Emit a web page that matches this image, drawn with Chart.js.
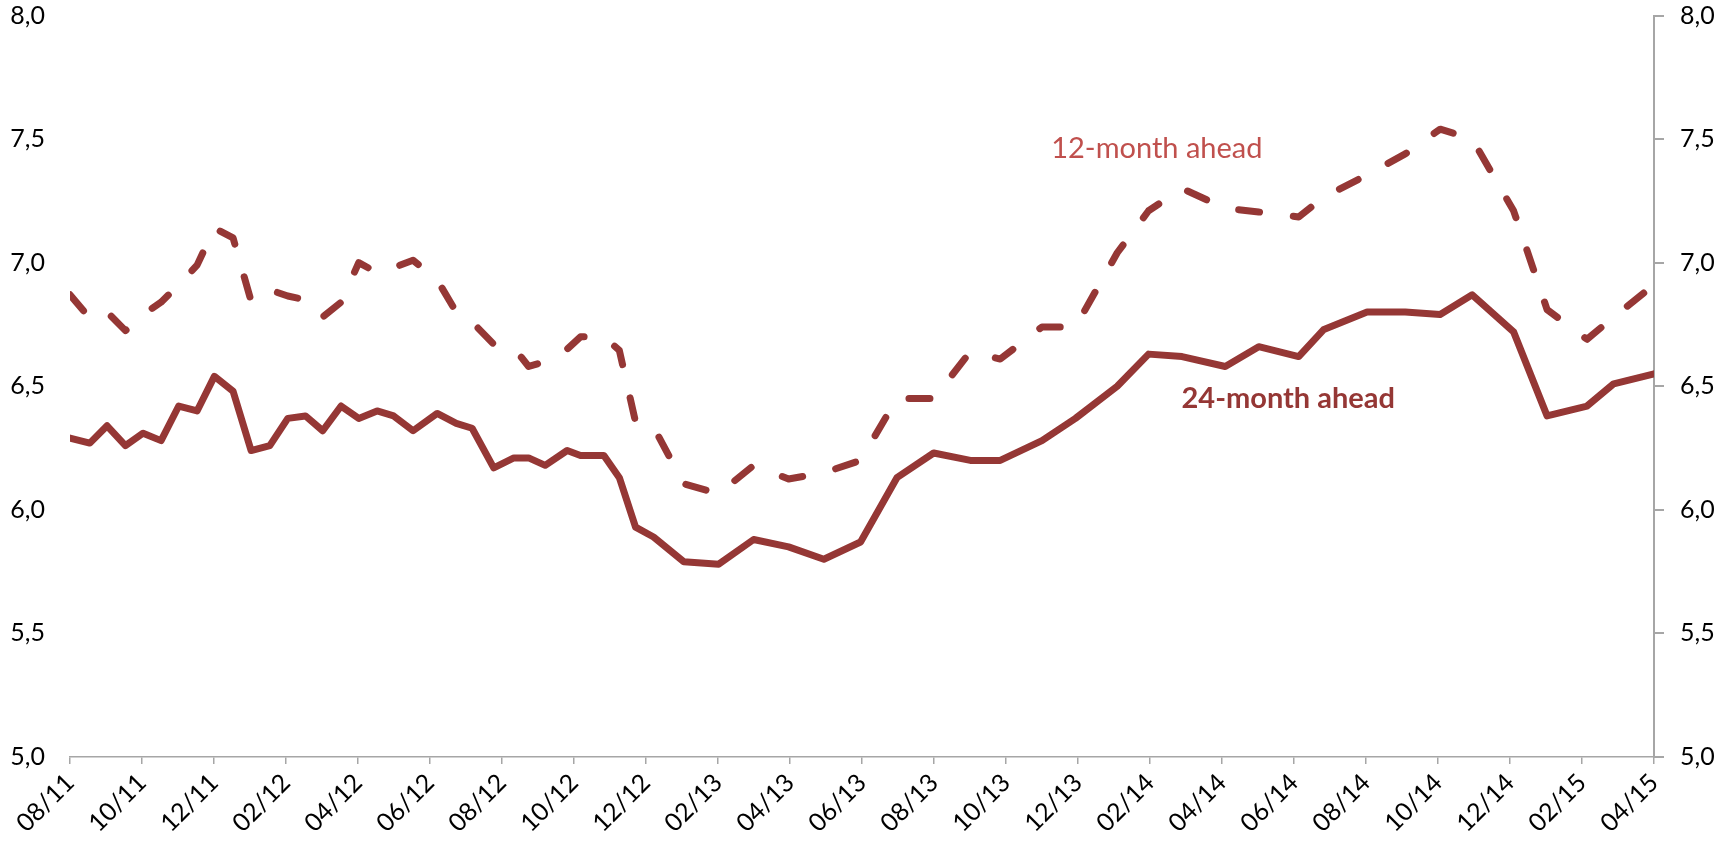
<!DOCTYPE html>
<html>
<head>
<meta charset="utf-8">
<script src="https://cdn.jsdelivr.net/npm/chart.js@4/dist/chart.umd.min.js"></script>
<style>
  html, body { margin: 0; padding: 0; background: #ffffff; }
  #wrap { width: 1732px; height: 842px; }
</style>
</head>
<body>
<div id="wrap"><canvas id="c" width="1732" height="842"></canvas></div>
<script>
// Observation dates, in months since 08/2011
const months = [
  0, 0.55, 1.03, 1.54, 2.03, 2.53, 3.02, 3.53, 4.01, 4.53,
  5.03, 5.55, 6.05, 6.54, 7.02, 7.53, 8.02, 8.53, 8.99, 9.53,
  10.2, 10.73, 11.17, 11.77, 12.33, 12.74, 13.2, 13.81, 14.18, 14.83,
  15.26, 15.71, 16.21, 17.05, 18.02, 18.99, 19.96, 20.94, 21.96, 22.97,
  23.99, 25.01, 25.84, 27.0, 27.93, 29.09, 29.96, 30.89, 32.09, 33.02,
  34.13, 34.83, 36.03, 37.09, 38.06, 38.95, 40.1, 41.03, 42.14, 42.88, 44.0
];
// 12-month ahead expectations
const ahead12 = [
  6.87, 6.775, 6.80, 6.725, 6.79, 6.84, 6.91, 6.99, 7.14, 7.10,
  6.845, 6.89, 6.865, 6.85, 6.78, 6.84, 7.00, 6.96, 6.98, 7.01,
  6.93, 6.80, 6.76, 6.67, 6.655, 6.58, 6.60, 6.65, 6.70, 6.70,
  6.645, 6.355, 6.335, 6.105, 6.065, 6.18, 6.125, 6.15, 6.20, 6.45,
  6.45, 6.64, 6.61, 6.74, 6.74, 7.04, 7.21, 7.30, 7.22, 7.205,
  7.185, 7.265, 7.355, 7.44, 7.54, 7.50, 7.21, 6.81, 6.69, 6.78, 6.91
];
// 24-month ahead expectations
const ahead24 = [
  6.29, 6.27, 6.34, 6.26, 6.31, 6.28, 6.42, 6.40, 6.54, 6.48,
  6.24, 6.26, 6.37, 6.38, 6.32, 6.42, 6.37, 6.40, 6.38, 6.32,
  6.39, 6.35, 6.33, 6.17, 6.21, 6.21, 6.18, 6.24, 6.22, 6.22,
  6.13, 5.93, 5.89, 5.79, 5.78, 5.88, 5.85, 5.80, 5.87, 6.13,
  6.23, 6.20, 6.20, 6.28, 6.37, 6.50, 6.63, 6.62, 6.58, 6.66,
  6.62, 6.73, 6.80, 6.80, 6.79, 6.87, 6.72, 6.38, 6.42, 6.51, 6.55
];
const tickLabels = [
  "08/11", "10/11", "12/11", "02/12", "04/12", "06/12", "08/12", "10/12",
  "12/12", "02/13", "04/13", "06/13", "08/13", "10/13", "12/13", "02/14",
  "04/14", "06/14", "08/14", "10/14", "12/14", "02/15", "04/15"
];
const seriesNames = ["12-month ahead", "24-month ahead"];

const lineColor = "#953735";
const axisGray = "#a6a6a6";
const tickFont = { family: "Lato, 'Open Sans', sans-serif", size: 25 };

const toPts = (ys) => months.map((m, i) => ({ x: m, y: ys[i] }));
const fmt = (v) => Number(v).toFixed(1).replace(".", ",");

const labelPlugin = {
  id: "seriesLabels",
  afterDatasetsDraw(chart, args, opts) {
    const { ctx, scales } = chart;
    ctx.save();
    ctx.textAlign = "center";
    ctx.textBaseline = "middle";
    opts.items.forEach((it) => {
      ctx.font = it.font;
      ctx.fillStyle = it.color;
      ctx.fillText(it.text, scales.x.getPixelForValue(it.at[0]), scales.y.getPixelForValue(it.at[1]));
    });
    ctx.restore();
  }
};

const noVertPad = (s) => { s.paddingTop = 0; s.paddingBottom = 0; };

new Chart(document.getElementById("c"), {
  type: "line",
  data: {
    datasets: [
      {
        label: seriesNames[0],
        data: toPts(ahead12),
        borderColor: lineColor,
        borderWidth: 7,
        borderDash: [21, 34],
        borderCapStyle: "round",
        borderJoinStyle: "round",
        pointRadius: 0,
        tension: 0,
        fill: false
      },
      {
        label: seriesNames[1],
        data: toPts(ahead24),
        borderColor: lineColor,
        borderWidth: 7,
        borderCapStyle: "round",
        borderJoinStyle: "round",
        pointRadius: 0,
        tension: 0,
        fill: false
      }
    ]
  },
  options: {
    responsive: false,
    animation: false,
    devicePixelRatio: 1,
    layout: { padding: { top: 15.5, left: 0, right: 0, bottom: 0 } },
    plugins: {
      legend: { display: false },
      tooltip: { enabled: false },
      seriesLabels: {
        items: [
          { text: seriesNames[0], at: [30.19, 7.46], color: "#c0504d", font: "29px Lato, 'Open Sans', sans-serif" },
          { text: seriesNames[1], at: [33.84, 6.45], color: "#953735", font: "bold 29px Lato, 'Open Sans', sans-serif" }
        ]
      }
    },
    scales: {
      x: {
        type: "linear",
        min: 0,
        max: 44,
        afterFit: (s) => { s.height = 85; s.paddingLeft = 0; s.paddingRight = 0; },
        border: { display: true, color: axisGray, width: 1.5 },
        grid: { display: true, drawOnChartArea: false, drawTicks: true, tickLength: 7, color: axisGray, lineWidth: 1.5 },
        ticks: {
          stepSize: 2,
          autoSkip: false,
          maxRotation: 45,
          minRotation: 45,
          padding: 4,
          color: "#000000",
          font: tickFont,
          callback: (v) => tickLabels[Math.round(v / 2)]
        }
      },
      y: {
        position: "left",
        min: 5,
        max: 8,
        afterFit: (s) => { s.width = 70; noVertPad(s); },
        border: { display: false },
        grid: { display: false, drawTicks: false },
        ticks: { stepSize: 0.5, padding: 25, color: "#000000", font: tickFont, callback: (v) => fmt(v) }
      },
      y2: {
        position: "right",
        min: 5,
        max: 8,
        afterFit: (s) => { s.width = 78; noVertPad(s); },
        border: { display: true, color: axisGray, width: 2 },
        grid: { display: true, drawOnChartArea: false, drawTicks: true, tickLength: 10, color: axisGray, lineWidth: 2 },
        ticks: { stepSize: 0.5, padding: 16, color: "#000000", font: tickFont, callback: (v) => fmt(v) }
      }
    }
  },
  plugins: [labelPlugin]
});
</script>
</body>
</html>
